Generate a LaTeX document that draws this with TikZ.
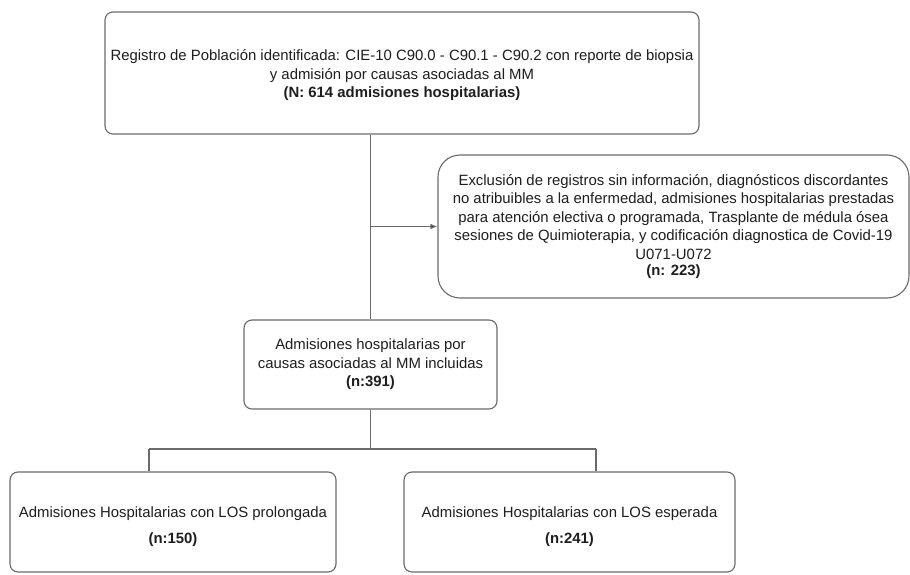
\documentclass[tikz,border=0pt]{standalone}
\usepackage{fontspec}
\setmainfont{Liberation Sans}
\usetikzlibrary{arrows.meta}
\definecolor{edgegray}{HTML}{6A6A6A}
\definecolor{txt}{HTML}{1E1E1E}
\begin{document}
\begin{tikzpicture}[x=1pt,y=-1pt,
  box/.style={draw=edgegray,line width=1.1pt,rounded corners=8pt,align=center,
    text=txt,inner sep=0pt,font=\fontsize{14.9}{18.5}\selectfont},
  conn/.style={draw=edgegray,line width=1.1pt}]
\useasboundingbox (0,0) rectangle (910,575);
\fill[white] (0,0) rectangle (910,575);

\node[box,minimum width=594pt,minimum height=122pt] (top) at (402,73)
  {\rule{0pt}{16pt}Registro de Población identificada: CIE-10 C90.0 - C90.1 - C90.2 con reporte de biopsia\\
   y admisión por causas asociadas al MM\\
   \textbf{(N: 614 admisiones hospitalarias)}};

\node[box,rounded corners=22pt,minimum width=471pt,minimum height=143pt] (excl) at (673.5,226.5)
  {Exclusión de registros sin información, diagnósticos discordantes\\
   no atribuibles a la enfermedad, admisiones hospitalarias prestadas\\
   para atención electiva o programada, Trasplante de médula ósea\\
   sesiones de Quimioterapia, y codificación diagnostica de Covid-19\\
   U071-U072\\[-2pt]
   \textbf{(n: 223)}};

\node[box,minimum width=253pt,minimum height=89pt] (mid) at (370.5,364.5)
  {Admisiones hospitalarias por\\
   causas asociadas al MM incluidas\\
   \textbf{(n:391)}};

\node[box,minimum width=326pt,minimum height=100pt] (bl) at (173,522)
  {\rule{0pt}{20pt}Admisiones Hospitalarias con LOS prolongada\\[7pt]
   \textbf{(n:150)}};

\node[box,minimum width=331pt,minimum height=100pt] (br) at (569.5,522)
  {\rule{0pt}{20pt}Admisiones Hospitalarias con LOS esperada\\[7pt]
   \textbf{(n:241)}};

\coordinate (j) at (mid.north |- excl.west);
\coordinate (b1) at (149,449);
\coordinate (b2) at (596,449);
\coordinate (hm) at (mid.south |- b1);

\draw[conn] (top.south -| mid.north) -- (mid.north);
\draw[conn,-{Latex[length=7pt,width=5.5pt,fill=txt]}] (j) -- (excl.west);
\draw[conn] (mid.south) -- (hm);
\draw[conn] (b1) -- (b2);
\draw[conn] (b1) -- (b1 |- bl.north);
\draw[conn] (b2) -- (b2 |- br.north);
\end{tikzpicture}
\end{document}
